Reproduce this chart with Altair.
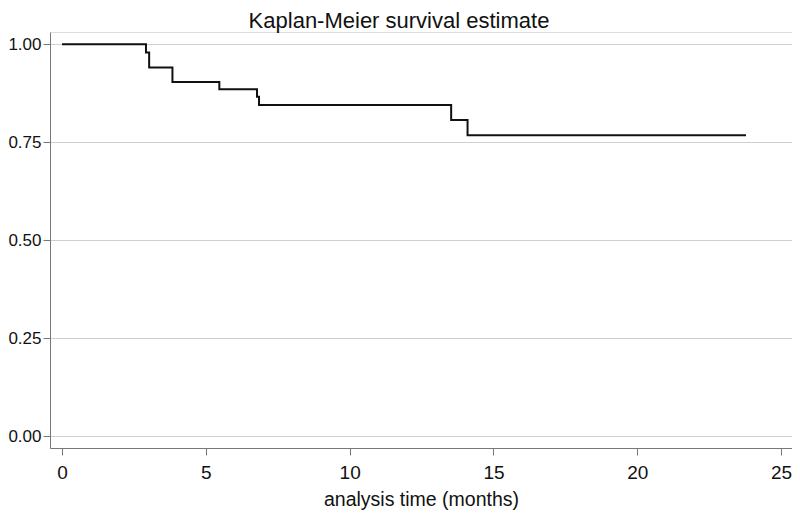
import altair as alt
import pandas as pd

# Kaplan-Meier step function
time_months = [0.0, 2.92, 3.03, 3.84, 5.47, 6.78, 6.85, 13.53, 14.10, 23.78]
survival = [1.000, 0.979, 0.941, 0.904, 0.885, 0.866, 0.845, 0.807, 0.768, 0.768]

y_ticks = [0.0, 0.25, 0.5, 0.75, 1.0]
x_ticks = [0, 5, 10, 15, 20, 25]

df = pd.DataFrame({"t": time_months, "s": survival})

FONT = "Liberation Sans"

chart = alt.Chart(df).mark_line(
    interpolate="step-after", color="#111111", strokeWidth=2, clip=True
).encode(
    x=alt.X("t:Q",
            scale=alt.Scale(domain=[-0.417, 25.38], nice=False, zero=False),
            axis=alt.Axis(values=x_ticks, title="analysis time (months)", grid=False,
                          format="d", labelFontSize=19, titleFontSize=19.5,
                          labelFont=FONT, titleFont=FONT, labelColor="#111111",
                          titleColor="#111111", titleFontWeight="normal",
                          domainColor="#777777", tickColor="#777777", tickSize=7,
                          labelPadding=8, titlePadding=8, labelFlush=False)),
    y=alt.Y("s:Q",
            scale=alt.Scale(domain=[-0.0306, 1.0314], nice=False, zero=False),
            axis=alt.Axis(values=y_ticks, title=None, format=".2f", grid=True,
                          gridColor="#cfcfcf", gridWidth=1,
                          labelFontSize=17, labelFont=FONT, labelColor="#111111",
                          domainColor="#777777", tickColor="#777777", tickSize=7,
                          labelPadding=2, labelFlush=False)),
).properties(
    width=742,
    height=416,
    title=alt.TitleParams("Kaplan-Meier survival estimate", fontSize=22, font=FONT,
                          fontWeight="normal", color="#111111", anchor="middle",
                          baseline="bottom", offset=-23, dx=-22),
    autosize=alt.AutoSizeParams(type="none"),
    padding={"left": 42, "top": 24, "right": 0, "bottom": 65},
).configure_view(stroke=None).configure(background="white")

chart.save("out.html", embed_options={"renderer": "svg", "actions": False})
